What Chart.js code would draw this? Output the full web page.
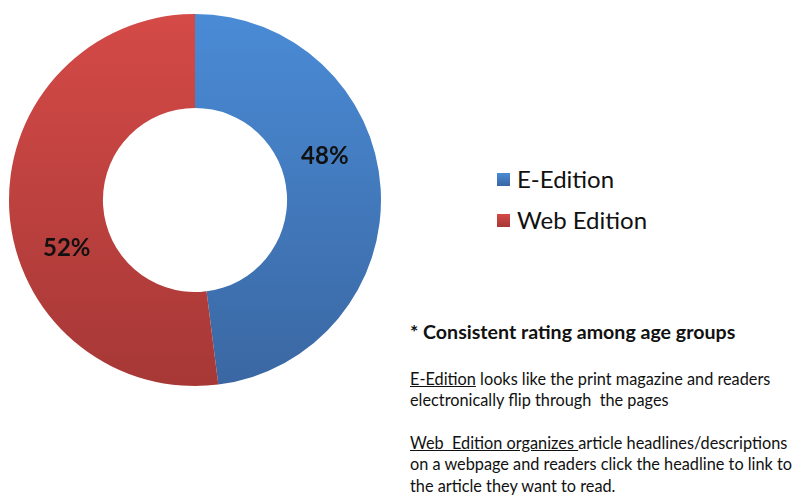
<!DOCTYPE html>
<html lang="en">
<head>
  <meta charset="UTF-8">
  <title>E-Edition vs Web Edition</title>
  <script src="https://cdn.jsdelivr.net/npm/chart.js"></script>
  <style>
    body { margin: 0; width: 805px; height: 497px; background: #fff; position: relative; overflow: hidden; font-family: Lato, "Open Sans", sans-serif; color: #111; }
    #chartBox { position: absolute; left: 0; top: 0; width: 390px; height: 400px; }
    #legend { position: absolute; left: 497px; top: 164px; font-size: 24px; }
    #legend div { height: 41px; display: flex; align-items: flex-start; }
    #legend span.box { display: inline-block; width: 13px; height: 13px; margin: 9px 7px 0 0; }
    #notes { position: absolute; left: 410px; top: 321px; width: 395px; font-size: 16.3px; line-height: 21.5px; }
    #notes .head { font-weight: bold; font-size: 19.6px; margin-bottom: 25px; }
    #notes p { margin: 0 0 21px 0; }
  </style>
</head>
<body>
  <div id="chartBox"><canvas id="myChart" width="390" height="400"></canvas></div>
  <div id="legend"></div>
  <div id="notes">
    <div class="head">* Consistent rating among age groups</div>
    <p><u>E-Edition</u> looks like the print magazine and readers electronically flip through&nbsp; the pages</p>
    <p><u>Web&nbsp; Edition organizes </u>article headlines/descriptions on a webpage and readers click the headline to link to the article they want to read.</p>
  </div>

  <script>
    // Share of readers for each edition
    const editions = ['E-Edition', 'Web Edition'];
    const shares = [48, 52];
    const topColors = ['#4a8bd6', '#d44a47'];
    const bottomColors = ['#3a67a2', '#a63836'];

    // Vertical shading for each slice
    function sliceColor(context) {
      const chart = context.chart;
      const area = chart.chartArea;
      if (!area) return topColors[context.dataIndex];
      const g = chart.ctx.createLinearGradient(0, area.top, 0, area.bottom);
      g.addColorStop(0, topColors[context.dataIndex]);
      g.addColorStop(1, bottomColors[context.dataIndex]);
      return g;
    }

    // Percent labels drawn inside the ring
    const percentLabels = {
      id: 'percentLabels',
      afterDatasetsDraw(chart) {
        const ctx = chart.ctx;
        const meta = chart.getDatasetMeta(0);
        ctx.save();
        ctx.font = 'bold 24px Lato, "Open Sans", sans-serif';
        ctx.fillStyle = '#111';
        ctx.textAlign = 'center';
        ctx.textBaseline = 'middle';
        meta.data.forEach((arc, i) => {
          const p = arc.getProps(['x', 'y', 'startAngle', 'endAngle', 'innerRadius', 'outerRadius']);
          const shift = (i === 0 ? 15 : 17) * Math.PI / 180;
          const angle = (p.startAngle + p.endAngle) / 2 - shift;
          const r = (p.innerRadius + p.outerRadius) / 2 - 2;
          ctx.fillText(shares[i] + '%', p.x + Math.cos(angle) * r, p.y + Math.sin(angle) * r);
        });
        ctx.restore();
      }
    };

    const ctx = document.getElementById('myChart').getContext('2d');
    const myChart = new Chart(ctx, {
      type: 'doughnut',
      data: {
        labels: editions,
        datasets: [{
          data: shares,
          backgroundColor: sliceColor,
          borderWidth: 0
        }]
      },
      options: {
        responsive: false,
        animation: false,
        cutout: '49.5%',
        layout: { padding: { left: 9, right: 9, top: 14, bottom: 14 } },
        plugins: {
          legend: { display: false },
          tooltip: { enabled: false }
        }
      },
      plugins: [percentLabels]
    });

    // Legend beside the ring
    const legend = document.getElementById('legend');
    editions.forEach((name, i) => {
      const row = document.createElement('div');
      const box = document.createElement('span');
      box.className = 'box';
      box.style.background = 'linear-gradient(' + topColors[i] + ',' + bottomColors[i] + ')';
      row.appendChild(box);
      row.appendChild(document.createTextNode(name));
      legend.appendChild(row);
    });
  </script>
</body>
</html>
